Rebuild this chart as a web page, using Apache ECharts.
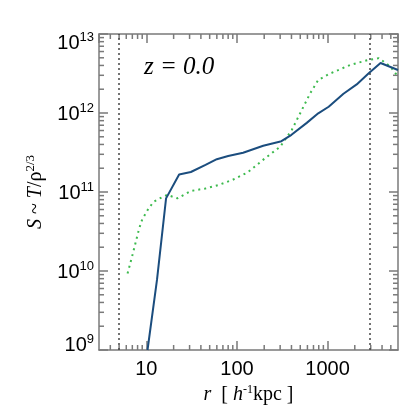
<!DOCTYPE html>
<html>
<head>
<meta charset="utf-8">
<script src="https://cdn.jsdelivr.net/npm/echarts@6/dist/echarts.min.js"></script>
<style>html,body{margin:0;padding:0;background:#fff;}#c{width:420px;height:420px;}</style>
</head>
<body>
<div id="c"></div>
<script>
// Data (r in h^-1 kpc, S)
const solidR = [10.3, 13.1, 16.5, 23, 31, 45, 60, 80, 117, 195, 310, 400, 590, 790, 1030, 1500, 2100, 2850, 3850, 6000];
const solidS = [1e9, 7.7e9, 8.3e10, 1.67e11, 1.79e11, 2.2e11, 2.6e11, 2.85e11, 3.14e11, 3.85e11, 4.4e11, 5.3e11, 7.5e11, 9.9e11, 1.2e12, 1.75e12, 2.3e12, 3.18e12, 4.3e12, 3.5e12];
const dottedR = [6.2, 7.1, 8.3, 9.0, 10.5, 12, 14.9, 17, 22, 31, 45, 63, 89, 130, 204, 300, 403, 520, 643, 790, 1030, 1780, 2850, 3700, 4900, 6000];
const dottedS = [9.3e9, 1.67e10, 3.4e10, 4.5e10, 6.1e10, 7.5e10, 8.6e10, 9.2e10, 8.3e10, 1.03e11, 1.11e11, 1.23e11, 1.42e11, 1.76e11, 2.67e11, 3.74e11, 6.1e11, 1.09e12, 1.77e12, 2.62e12, 3.1e12, 4.06e12, 4.7e12, 4.95e12, 3.9e12, 2.9e12];
const vlines = [5, 2900];
const xRange = [3, 6000];
const yRange = [1e9, 1e13];
const xMinor = [4,5,6,7,8,9,20,30,40,50,60,70,80,90,200,300,400,500,600,700,800,900,2000,3000,4000,5000];
const yMinor = [];
[1e9, 1e10, 1e11, 1e12].forEach(d => { for (let k = 2; k <= 9; k++) yMinor.push(k * d); });
const label = "z = 0.0";

const chart = echarts.init(document.getElementById('c'), null, {renderer: 'canvas'});
const axisCol = '#7a7a7a';
const sans = 'Liberation Sans, Arial, sans-serif';
const serif = 'Liberation Serif, Times New Roman, serif';

function pow10(v) {
  const e = Math.round(Math.log10(v));
  return Math.abs(v - Math.pow(10, e)) / Math.pow(10, e) < 1e-6 ? e : null;
}

const baseAxis = {
  type: 'log',
  logBase: 10,
  axisLine: {show: true, onZero: false, lineStyle: {color: axisCol, width: 1.5}},
  axisTick: {show: true, inside: true, length: 9, lineStyle: {color: axisCol, width: 1.5}},
  splitLine: {show: false},
  minorTick: {show: false},
  minorSplitLine: {show: false}
};

const supStyle = {fontFamily: sans, fontSize: 13, color: '#000', verticalAlign: 'bottom'};
const baseStyle = {fontFamily: sans, fontSize: 20, color: '#000', verticalAlign: 'bottom'};

const option = {
  animation: false,
  backgroundColor: '#fff',
  grid: {left: 99, right: 22, top: 34, bottom: 70, containLabel: false},
  xAxis: [
    Object.assign({}, baseAxis, {
      min: xRange[0], max: xRange[1], position: 'bottom',
      axisLabel: {
        margin: 9, color: '#000', fontFamily: sans, fontSize: 20,
        showMinLabel: false, showMaxLabel: false,
        formatter: v => pow10(v) !== null ? String(Math.round(v)) : ''
      },
      name: '{i|r}{n|  [ }{i|h}{s|-1}{n|kpc ]}',
      nameLocation: 'middle', nameGap: 32,
      nameTextStyle: {
        rich: {
          i: {fontFamily: serif, fontStyle: 'italic', fontSize: 20, color: '#000'},
          n: {fontFamily: serif, fontSize: 20, color: '#000'},
          s: {fontFamily: serif, fontSize: 12, color: '#000', verticalAlign: 'bottom', padding: [0, 0, 10, 0]}
        }
      }
    }),
    Object.assign({}, baseAxis, {
      min: xRange[0], max: xRange[1], position: 'top',
      axisLabel: {show: false}
    })
  ],
  yAxis: [
    Object.assign({}, baseAxis, {
      min: yRange[0], max: yRange[1], position: 'left',
      axisLabel: {
        margin: 5, color: '#000', fontFamily: sans, fontSize: 20,
        formatter: v => {
          const e = pow10(v);
          if (e === null) return '';
          if (v >= yRange[1] * 0.999) return '{bt|10}{st|' + e + '}';
          if (v <= yRange[0] * 1.001) return '{bb|10}{sb|' + e + '}';
          return '{b|10}{s|' + e + '}';
        },
        rich: {
          b: Object.assign({}, baseStyle),
          s: Object.assign({}, supStyle, {padding: [0, 0, 10, 0]}),
          bt: Object.assign({}, baseStyle, {padding: [16, 0, 0, 0]}),
          st: Object.assign({}, supStyle, {padding: [16, 0, 10, 0]}),
          bb: Object.assign({}, baseStyle, {padding: [0, 0, 12, 0]}),
          sb: Object.assign({}, supStyle, {padding: [0, 0, 22, 0]})
        }
      },
      name: '{i|S}{n| ~ }{i|T}{n|/ρ}{s|2/3}',
      nameLocation: 'middle', nameGap: 52, nameRotate: 90,
      nameTextStyle: {
        rich: {
          i: {fontFamily: serif, fontStyle: 'italic', fontSize: 20, color: '#000'},
          n: {fontFamily: serif, fontSize: 20, color: '#000'},
          s: {fontFamily: serif, fontSize: 13, color: '#000', verticalAlign: 'bottom', padding: [0, 0, 10, 0]}
        }
      }
    }),
    Object.assign({}, baseAxis, {
      min: yRange[0], max: yRange[1], position: 'right',
      axisLabel: {show: false}
    })
  ],
  graphic: [{
    type: 'text', left: 144, top: 55, silent: true,
    style: {text: label, font: 'italic 25px ' + serif, fill: '#000'}
  }],
  series: [
    {
      type: 'custom', xAxisIndex: 0, yAxisIndex: 0, silent: true, clip: false,
      data: xMinor.map(v => [v, yRange[0]]),
      renderItem: (params, api) => {
        const cs = params.coordSys;
        const x = api.coord([api.value(0), api.value(1)])[0];
        return {type: 'group', children: [
          {type: 'line', shape: {x1: x, y1: cs.y + cs.height, x2: x, y2: cs.y + cs.height - 5}, style: {stroke: axisCol, lineWidth: 1.5}},
          {type: 'line', shape: {x1: x, y1: cs.y, x2: x, y2: cs.y + 5}, style: {stroke: axisCol, lineWidth: 1.5}}
        ]};
      }
    },
    {
      type: 'custom', xAxisIndex: 0, yAxisIndex: 0, silent: true, clip: false,
      data: yMinor.map(v => [xRange[0], v]),
      renderItem: (params, api) => {
        const cs = params.coordSys;
        const y = api.coord([api.value(0), api.value(1)])[1];
        return {type: 'group', children: [
          {type: 'line', shape: {x1: cs.x, y1: y, x2: cs.x + 5, y2: y}, style: {stroke: axisCol, lineWidth: 1.5}},
          {type: 'line', shape: {x1: cs.x + cs.width, y1: y, x2: cs.x + cs.width - 5, y2: y}, style: {stroke: axisCol, lineWidth: 1.5}}
        ]};
      }
    },
    {
      type: 'line', xAxisIndex: 0, yAxisIndex: 0, showSymbol: false, symbol: 'none', clip: true,
      data: dottedR.map((r, i) => [r, dottedS[i]]),
      lineStyle: {color: '#3dba4e', width: 2, type: [2, 4]},
      z: 3
    },
    {
      type: 'line', xAxisIndex: 0, yAxisIndex: 0, showSymbol: false, symbol: 'none', clip: true,
      data: solidR.map((r, i) => [r, solidS[i]]),
      lineStyle: {color: '#1b4d7e', width: 2},
      z: 4,
      markLine: {
        silent: true, symbol: ['none', 'none'], label: {show: false},
        lineStyle: {color: '#444', type: [2, 3], width: 1.5},
        data: vlines.map(v => ({xAxis: v}))
      }
    }
  ]
};
chart.setOption(option);
</script>
</body>
</html>
